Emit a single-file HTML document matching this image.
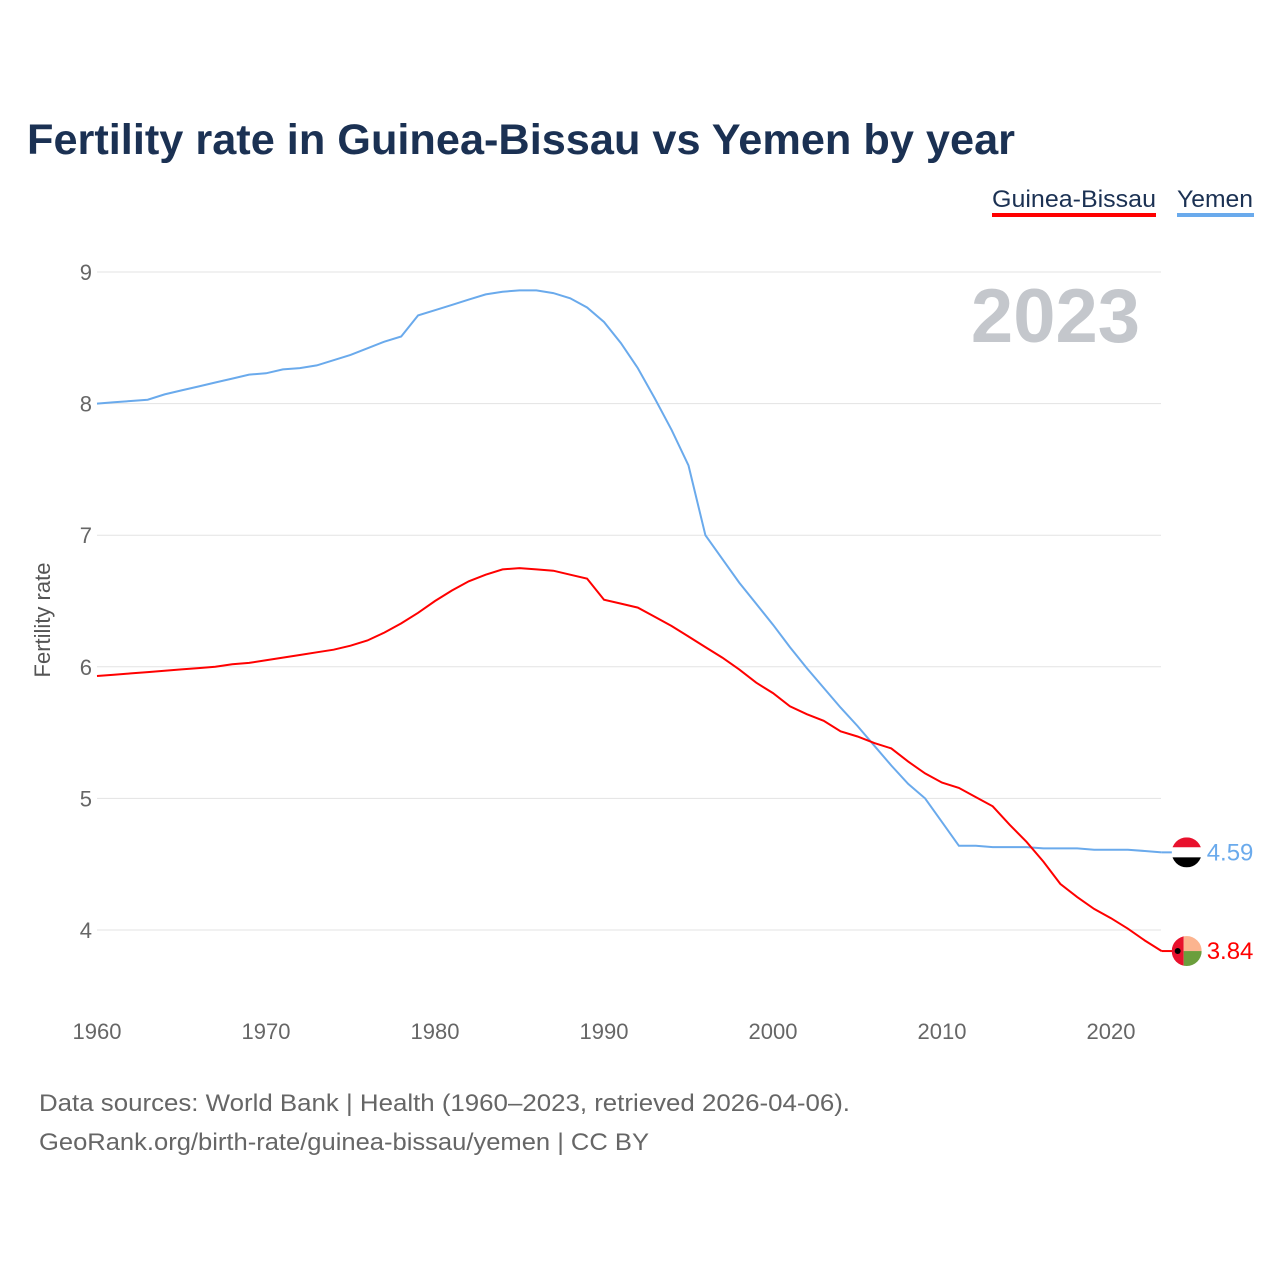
<!DOCTYPE html>
<html><head><meta charset="utf-8"><style>
body{margin:0;background:#fff;font-family:"Liberation Sans",sans-serif;}
</style></head><body>
<svg id="chart" width="1280" height="1280" xmlns="http://www.w3.org/2000/svg">
<rect width="1280" height="1280" fill="#fff"/>
<text x="27" y="154" font-size="43" font-weight="bold" fill="#1b3153" textLength="988" lengthAdjust="spacingAndGlyphs">Fertility rate in Guinea-Bissau vs Yemen by year</text>
<g>
<text x="992" y="207" font-size="24" fill="#1b3153" textLength="164" lengthAdjust="spacingAndGlyphs">Guinea-Bissau</text>
<rect x="992" y="213" width="164" height="4" fill="#ff0000"/>
<text x="1177" y="207" font-size="24" fill="#1b3153" textLength="76" lengthAdjust="spacingAndGlyphs">Yemen</text>
<rect x="1177" y="213" width="77" height="4" fill="#6aaaec"/>
</g>
<text x="1140" y="342" font-size="76" font-weight="bold" fill="#c4c7cc" text-anchor="end">2023</text>
<text transform="translate(50,620) rotate(-90)" font-size="22" fill="#555" text-anchor="middle">Fertility rate</text>
<g id="grid"></g><g id="xt"></g><g id="lines"></g>
<text x="39" y="1111" font-size="24" fill="#666" textLength="811" lengthAdjust="spacingAndGlyphs">Data sources: World Bank | Health (1960–2023, retrieved 2026-04-06).</text>
<text x="39" y="1150" font-size="24" fill="#666" textLength="610" lengthAdjust="spacingAndGlyphs">GeoRank.org/birth-rate/guinea-bissau/yemen | CC BY</text>
</svg>
<script>
const years=[];for(let y=1960;y<=2023;y++)years.push(y);
const yemen=[8.00,8.01,8.02,8.03,8.07,8.10,8.13,8.16,8.19,8.22,8.23,8.26,8.27,8.29,8.33,8.37,8.42,8.47,8.51,8.67,8.71,8.75,8.79,8.83,8.85,8.86,8.86,8.84,8.80,8.73,8.62,8.46,8.27,8.04,7.80,7.53,7.00,6.82,6.64,6.48,6.32,6.15,5.99,5.84,5.69,5.55,5.40,5.25,5.11,5.00,4.82,4.64,4.64,4.63,4.63,4.63,4.62,4.62,4.62,4.61,4.61,4.61,4.60,4.59];
const gb=[5.93,5.94,5.95,5.96,5.97,5.98,5.99,6.00,6.02,6.03,6.05,6.07,6.09,6.11,6.13,6.16,6.20,6.26,6.33,6.41,6.50,6.58,6.65,6.70,6.74,6.75,6.74,6.73,6.70,6.67,6.51,6.48,6.45,6.38,6.31,6.23,6.15,6.07,5.98,5.88,5.80,5.70,5.64,5.59,5.51,5.47,5.42,5.38,5.28,5.19,5.12,5.08,5.01,4.94,4.80,4.67,4.52,4.35,4.25,4.16,4.09,4.01,3.92,3.84];
const yTicks=[4,5,6,7,8,9];
const xTicks=[1960,1970,1980,1990,2000,2010,2020];
const NS="http://www.w3.org/2000/svg";
const X=y=>97+(y-1960)*(1111-97)/60;
const Y=v=>930-(v-4)*(930-272)/5;
function mk(t,a,p){const e=document.createElementNS(NS,t);for(const k in a)e.setAttribute(k,a[k]);p.appendChild(e);return e;}
const grid=document.getElementById('grid');
yTicks.forEach(v=>{
 const l=mk('line',{x1:97,x2:1161,y1:Y(v),y2:Y(v),stroke:'#e3e3e3','stroke-width':1},grid);
 
 
 const t=mk('text',{x:92,y:Y(v)+8,'font-size':22,fill:'#666','text-anchor':'end'},grid);t.textContent=v;
 
 
});
const xt=document.getElementById('xt');
xTicks.forEach(v=>{
 const t=mk('text',{x:X(v),y:1039,'font-size':22,fill:'#666','text-anchor':'middle'},xt);t.textContent=v;
 
 
});
const lines=document.getElementById('lines');
function series(d,c,n){
 const p=mk('path',{d:d.map((v,i)=>(i?'L':'M')+X(years[i]).toFixed(1)+','+Y(v).toFixed(1)).join(''),fill:'none',stroke:c,'stroke-width':2},lines);
 
 
 const last=d[d.length-1],lx=X(years[years.length-1]),ly=Y(last);
 mk('line',{x1:lx,x2:lx+14,y1:ly,y2:ly,stroke:c,'stroke-width':2},lines);
 const g=mk('g',{},lines);
 
 
 const cx=lx+25;
 const id='clip-'+n;
 const cl=mk('clipPath',{id:id},g);mk('circle',{cx:cx,cy:ly,r:15},cl);
 if(n==='yemen'){
  mk('rect',{x:cx-15,y:ly-15,width:30,height:10,fill:'#e8112d','clip-path':'url(#'+id+')'},g);
  mk('rect',{x:cx-15,y:ly-5,width:30,height:10,fill:'#fff','clip-path':'url(#'+id+')'},g);
  mk('rect',{x:cx-15,y:ly+5,width:30,height:10,fill:'#000','clip-path':'url(#'+id+')'},g);
 }else{
  mk('rect',{x:cx-15,y:ly-15,width:12,height:30,fill:'#e8112d','clip-path':'url(#'+id+')'},g);
  mk('rect',{x:cx-3,y:ly-15,width:18,height:15,fill:'#fcb48f','clip-path':'url(#'+id+')'},g);
  mk('rect',{x:cx-3,y:ly,width:18,height:15,fill:'#6b9e3c','clip-path':'url(#'+id+')'},g);
  mk('circle',{cx:cx-9,cy:ly,r:3,fill:'#000'},g);
 }
 const t=mk('text',{x:cx+20,y:ly+8,'font-size':24,fill:c},lines);t.textContent=last.toFixed(2);
 
 
}
series(yemen,'#6aaaec','yemen');
series(gb,'#ff0000','guinea-bissau');
</script>
</body></html>
